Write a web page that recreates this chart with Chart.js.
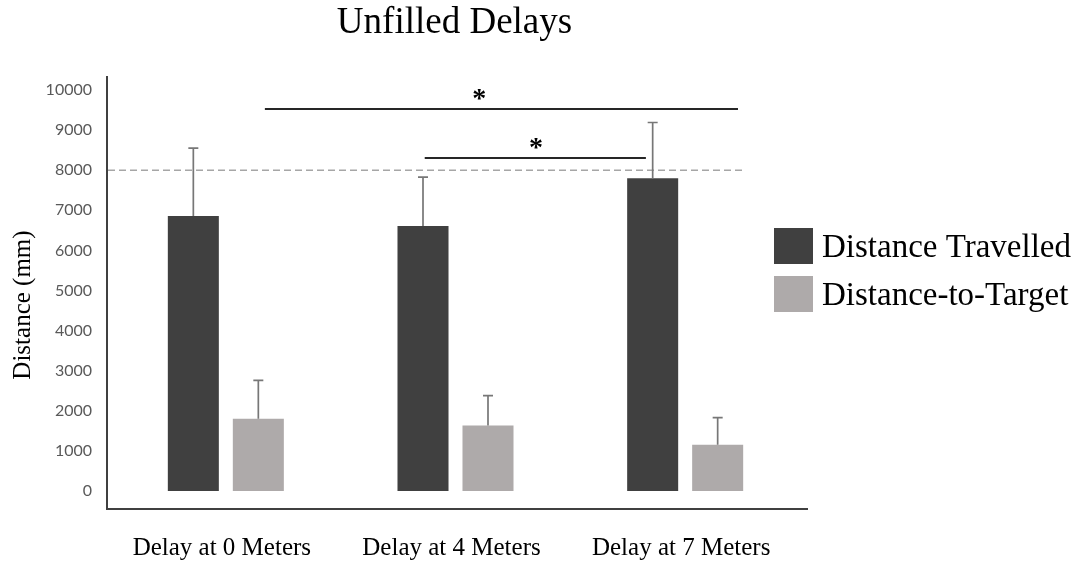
<!DOCTYPE html>
<html>
<head>
<meta charset="utf-8">
<title>Unfilled Delays</title>
<script src="https://cdn.jsdelivr.net/npm/chart.js@4/dist/chart.umd.min.js"></script>
<style>
  html, body { margin: 0; padding: 0; background: #ffffff; }
  #wrap { width: 1077px; height: 564px; }
</style>
</head>
<body>
<div id="wrap"><canvas id="chart" width="1077" height="564"></canvas></div>
<script>
// Conditions along the x axis
const categories = ['Delay at 0 Meters', 'Delay at 4 Meters', 'Delay at 7 Meters'];

// Mean distances (mm) and their error bars (upper SD)
const travelled = [6860, 6610, 7800];
const travelledErr = [1690, 1220, 1390];
const toTarget = [1800, 1630, 1150];
const toTargetErr = [960, 750, 680];

// Y axis tick values
const yTicks = [0, 1000, 2000, 3000, 4000, 5000, 6000, 7000, 8000, 9000, 10000];

// Target distance reference level (mm)
const referenceLevel = 8000;

// Significance brackets: category span (index units), height (mm), asterisk position
const sigFrom = [0.17, 0.866];
const sigTo = [2.23, 1.829];
const sigLevel = [9520, 8300];
const sigMarkAt = [1.103, 1.35];

const SERIF = '"Liberation Serif", "Times New Roman", serif';

function catPixel(xScale, f) {
  const p0 = xScale.getPixelForValue(0);
  const step = xScale.getPixelForValue(1) - p0;
  return p0 + f * step;
}

const annotations = {
  id: 'annotations',
  beforeDatasetsDraw(chart) {
    const { ctx, chartArea: a, scales: { y } } = chart;
    const lastMeta = chart.getDatasetMeta(chart.data.datasets.length - 1);
    const last = lastMeta.data[lastMeta.data.length - 1];
    const endX = last.x + last.width / 2;
    const yy = y.getPixelForValue(referenceLevel);
    ctx.save();
    ctx.setLineDash([7, 4]);
    ctx.strokeStyle = '#a6a6a6';
    ctx.lineWidth = 1.5;
    ctx.beginPath();
    ctx.moveTo(a.left - 3, yy);
    ctx.lineTo(endX, yy);
    ctx.stroke();
    ctx.restore();
  },
  afterDatasetsDraw(chart) {
    const { ctx, chartArea: a, scales: { x, y } } = chart;
    ctx.save();
    // error bars
    chart.data.datasets.forEach((ds, di) => {
      const meta = chart.getDatasetMeta(di);
      meta.data.forEach((bar, i) => {
        const top = y.getPixelForValue(ds.data[i] + ds.errors[i]);
        ctx.strokeStyle = '#777777';
        ctx.lineWidth = 1.7;
        ctx.beginPath();
        ctx.moveTo(bar.x, bar.y);
        ctx.lineTo(bar.x, top);
        ctx.moveTo(bar.x - 5, top);
        ctx.lineTo(bar.x + 5, top);
        ctx.stroke();
      });
    });
    // significance brackets
    ctx.strokeStyle = '#262626';
    ctx.lineWidth = 2;
    ctx.fillStyle = '#000000';
    ctx.font = 'bold 28px ' + SERIF;
    ctx.textAlign = 'center';
    ctx.textBaseline = 'alphabetic';
    sigLevel.forEach((lvl, k) => {
      const yy = Math.round(y.getPixelForValue(lvl));
      ctx.beginPath();
      ctx.moveTo(catPixel(x, sigFrom[k]), yy);
      ctx.lineTo(catPixel(x, sigTo[k]), yy);
      ctx.stroke();
      ctx.fillText('*', catPixel(x, sigMarkAt[k]), yy - 2);
    });
    // axis lines
    ctx.strokeStyle = '#404040';
    ctx.lineWidth = 2;
    ctx.beginPath();
    ctx.moveTo(a.left - 4, a.top);
    ctx.lineTo(a.left - 4, a.bottom);
    ctx.lineTo(a.right + 8, a.bottom);
    ctx.stroke();
    ctx.restore();
  },
  afterDraw(chart) {
    const { ctx, chartArea: a } = chart;
    ctx.save();
    // chart title
    ctx.fillStyle = '#000000';
    ctx.font = '37px ' + SERIF;
    ctx.textAlign = 'center';
    ctx.textBaseline = 'alphabetic';
    ctx.fillText('Unfilled Delays', (a.left + a.right) / 2 - 1, 33);
    // y axis title
    ctx.save();
    ctx.translate(23, 305);
    ctx.rotate(-Math.PI / 2);
    ctx.font = '25px ' + SERIF;
    ctx.textBaseline = 'middle';
    ctx.fillText('Distance (mm)', 0, 0);
    ctx.restore();
    // legend
    ctx.textAlign = 'left';
    ctx.font = '33px ' + SERIF;
    chart.data.datasets.forEach((ds, i) => {
      const top = 228 + i * 48;
      ctx.fillStyle = ds.backgroundColor;
      ctx.fillRect(774, top, 39, 36);
      ctx.fillStyle = '#000000';
      ctx.fillText(ds.label, 822, top + 29);
    });
    ctx.restore();
  }
};

new Chart(document.getElementById('chart'), {
  type: 'bar',
  data: {
    labels: categories,
    datasets: [
      { label: 'Distance Travelled', data: travelled, errors: travelledErr, backgroundColor: '#404040' },
      { label: 'Distance-to-Target', data: toTarget, errors: toTargetErr, backgroundColor: '#aeaaaa' }
    ]
  },
  options: {
    responsive: false,
    animation: false,
    layout: { padding: { left: 0, right: 277, top: 76, bottom: 0 } },
    datasets: { bar: { categoryPercentage: 0.566, barPercentage: 0.785 } },
    plugins: {
      legend: { display: false },
      title: { display: false },
      tooltip: { enabled: false }
    },
    scales: {
      x: {
        grid: { display: false, drawTicks: false },
        border: { display: false },
        ticks: {
          color: '#000000',
          font: { family: SERIF, size: 25 },
          padding: 24,
          labelOffset: -4,
          maxRotation: 0,
          autoSkip: false
        },
        afterFit(s) { s.height = 55; }
      },
      y: {
        min: -450,
        max: 10350,
        grid: { display: false, drawTicks: false },
        border: { display: false },
        afterBuildTicks(s) { s.ticks = yTicks.map(v => ({ value: v })); },
        ticks: {
          color: '#595959',
          font: { family: 'Lato', size: 16 },
          padding: 19,
          callback: v => String(v)
        },
        afterFit(s) { s.width = 111; }
      }
    }
  },
  plugins: [annotations]
});
</script>
</body>
</html>
